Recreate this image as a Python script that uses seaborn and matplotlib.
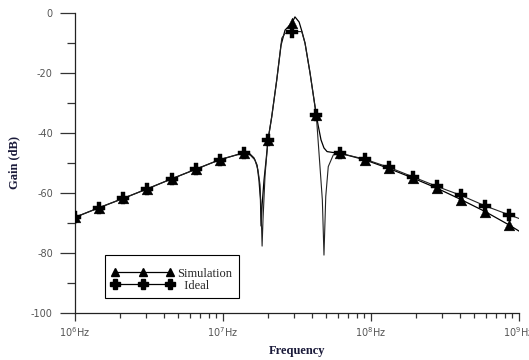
import matplotlib
matplotlib.use("Agg")
import matplotlib.pyplot as plt
from matplotlib.lines import Line2D
from matplotlib.ticker import FixedLocator, LogLocator, NullFormatter
import numpy as np
import seaborn as sns

# frequencies are stored as log10(Hz)
ideal_dec = [6.000, 6.163, 6.326, 6.489, 6.652, 6.815, 6.978, 7.141,
             7.182, 7.216, 7.236, 7.250, 7.257, 7.264, 7.270, 7.284, 7.304,
             7.329, 7.363, 7.397, 7.419, 7.467, 7.532, 7.554, 7.588, 7.630,
             7.655, 7.671, 7.682, 7.694, 7.711, 7.745, 7.793,
             7.956, 8.119, 8.282, 8.445, 8.608, 8.771, 8.934, 9.000]
ideal_gain = [-68.1, -64.9, -61.8, -58.6, -55.3, -52.1, -48.9, -46.6,
              -47.3, -49.0, -52.3, -57.3, -65.7, -77.7, -69.0, -54.0, -42.3,
              -34.6, -22.3, -8.4, -6.8, -6.2, -6.2, -10.1, -20.1, -34.0,
              -51.2, -62.3, -80.7, -61.2, -51.2, -47.3, -46.8,
              -48.7, -51.4, -54.6, -57.8, -60.8, -64.3, -67.3, -68.5]

sim_dec = [6.000, 6.163, 6.326, 6.489, 6.652, 6.815, 6.978, 7.141,
           7.182, 7.209, 7.230, 7.243, 7.253, 7.257, 7.264, 7.277, 7.291, 7.304,
           7.329, 7.363, 7.392, 7.419, 7.467, 7.486, 7.514, 7.534, 7.554, 7.588,
           7.630, 7.642, 7.662, 7.682, 7.703, 7.743, 7.793,
           7.956, 8.119, 8.282, 8.445, 8.608, 8.771, 8.934, 9.000]
sim_gain = [-68.1, -64.9, -61.8, -58.6, -55.3, -52.1, -48.9, -46.6,
            -47.0, -48.3, -50.7, -55.7, -62.3, -71.0, -64.0, -55.7, -49.0, -42.3,
            -34.6, -22.3, -10.7, -5.7, -3.2, -1.3, -3.0, -6.3, -10.0, -20.0,
            -34.0, -37.3, -42.3, -45.0, -46.2, -46.5, -46.8,
            -48.9, -51.8, -55.0, -58.4, -62.2, -66.2, -70.7, -72.7]

# marker positions (every ~0.163 decade)
mark_dec = [6.000, 6.163, 6.326, 6.489, 6.652, 6.815, 6.978, 7.141, 7.304, 7.467,
            7.630, 7.793, 7.956, 8.119, 8.282, 8.445, 8.608, 8.771, 8.934]
ideal_mark = [-68.1, -64.9, -61.8, -58.6, -55.3, -52.1, -48.9, -46.6, -42.3, -6.2,
              -34.0, -46.8, -48.7, -51.4, -54.6, -57.8, -60.8, -64.3, -67.3]
sim_mark = [-68.1, -64.9, -61.8, -58.6, -55.3, -52.1, -48.9, -46.6, -42.3, -3.2,
            -34.0, -46.8, -48.9, -51.8, -55.0, -58.4, -62.2, -66.2, -70.7]

y_ticks = [0, -20, -40, -60, -80, -100]
x_ticks = [1e6, 1e7, 1e8, 1e9]
x_labels = ["10$^{6}$Hz", "10$^{7}$Hz", "10$^{8}$Hz", "10$^{9}$Hz"]

sns.set_style("ticks")
plt.rcParams['axes.unicode_minus'] = False

fig = plt.figure(figsize=(5.29, 3.6), dpi=100)
ax = fig.add_axes([0.1418, 0.1306, 0.8394, 0.8333])

sim_f = np.power(10.0, sim_dec)
ideal_f = np.power(10.0, ideal_dec)
mark_f = np.power(10.0, mark_dec)

sns.lineplot(x=sim_f, y=sim_gain, ax=ax, color='black', lw=0.9,
             estimator=None, sort=False)
sns.lineplot(x=ideal_f, y=ideal_gain, ax=ax, color='#222222', lw=0.8,
             estimator=None, sort=False)
sns.scatterplot(x=mark_f, y=sim_mark, ax=ax, marker='^', s=60, color='black',
                edgecolor='black', linewidth=0.3, zorder=3)
sns.scatterplot(x=mark_f, y=ideal_mark, ax=ax, marker='P', s=80, color='black',
                edgecolor='black', linewidth=0.3, zorder=4)

ax.set_xscale('log')
ax.set_xlim(1e6, 1e9)
ax.set_ylim(-100, 0)
ax.xaxis.set_major_locator(FixedLocator(x_ticks))
ax.set_xticklabels(x_labels)
ax.xaxis.set_minor_locator(LogLocator(base=10, subs=np.arange(2, 10)))
ax.xaxis.set_minor_formatter(NullFormatter())
ax.set_yticks(y_ticks)
ax.set_yticklabels([str(v) for v in y_ticks])
ax.set_yticks([-10, -30, -50, -70, -90], minor=True)

ax.tick_params(axis='y', which='major', length=11, width=0.9, pad=5,
               labelsize=7, labelcolor='#555555', color='#333333')
ax.tick_params(axis='y', which='minor', length=6, width=0.9, color='#333333')
ax.tick_params(axis='x', which='major', length=6, width=0.9, pad=3,
               labelsize=7, labelcolor='#555555', color='#333333')
ax.tick_params(axis='x', which='minor', length=3.5, width=0.9, color='#333333')

sns.despine(ax=ax)
for s in ['left', 'bottom']:
    ax.spines[s].set_linewidth(0.9)
    ax.spines[s].set_color('#222222')

ax.set_xlabel('Frequency', family='Liberation Serif', fontweight='bold',
              fontsize=9, color='#1a1a3a', labelpad=4)
ax.set_ylabel('Gain (dB)', family='Liberation Serif', fontweight='bold',
              fontsize=9, color='#1a1a3a', labelpad=8)

handles = [Line2D([], [], color='black', lw=0.9, marker='^', ms=6),
           Line2D([], [], color='black', lw=0.9, marker='P', ms=7)]
leg = ax.legend(handles, ['Simulation', '  Ideal'], loc='lower left',
                bbox_to_anchor=(0.0676, 0.05), borderaxespad=0, numpoints=3,
                handlelength=5.0, handletextpad=0.3, labelspacing=0.0,
                borderpad=0.5, fancybox=False, framealpha=1, edgecolor='black',
                prop={'family': 'Liberation Serif', 'size': 9},
                title=' ', title_fontsize=5)
leg.get_frame().set_linewidth(0.8)

fig.savefig('out.png', dpi=100)
